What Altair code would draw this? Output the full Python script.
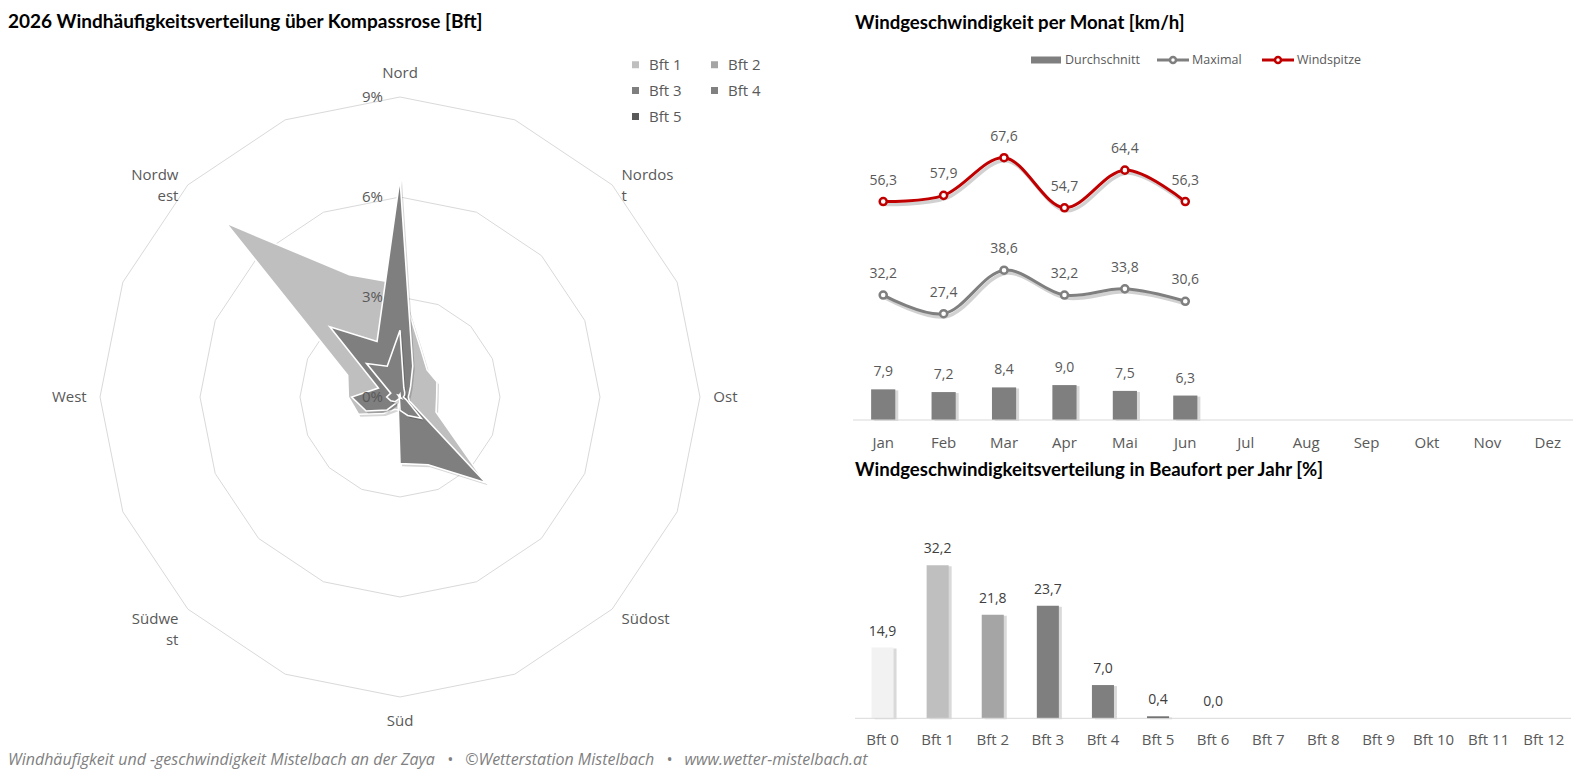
import altair as alt
import pandas as pd

# ---------------- data ----------------
directions = ["N", "NNO", "NO", "ONO", "O", "OSO", "SO", "SSO",
              "S", "SSW", "SW", "WSW", "W", "WNW", "NW", "NNW"]
direction_labels = ["Nord", "", "Nordost", "", "Ost", "", "Südost", "",
                    "Süd", "", "Südwest", "", "West", "", "Nordwest", ""]
series_names = ["Bft 1", "Bft 2", "Bft 3", "Bft 4", "Bft 5"]
bft1_share = [3.4, 1.6, 1.15, 1.2, 1.1, 1.17, 3.6, 1.5, 0.4, 0.4, 0.7, 1.35, 1.55, 1.7, 7.38, 3.97]
bft2_share = [5.0, 0.8, 0.35, 0.25, 0.2, 0.25, 3.0, 1.9, 1.7, 0.1, 0.45, 0.9, 1.2, 0.55, 2.6, 1.5]
bft3_share = [6.56, 1.0, 0.45, 0.3, 0.25, 0.3, 3.64, 2.2, 2.0, 0.15, 0.55, 1.1, 1.45, 0.7, 2.98, 1.8]
bft4_share = [2.0, 0.3, 0.2, 0.15, 0.1, 0.2, 0.9, 0.6, 0.4, 0.05, 0.2, 0.3, 0.4, 0.3, 1.42, 1.0]
bft5_share = [0.08, 0.02, 0.01, 0.0, 0.0, 0.01, 0.05, 0.03, 0.02, 0.0, 0.01, 0.02, 0.03, 0.02, 0.08, 0.05]
ring_levels = [3, 6, 9]
ring_label_levels = [0, 3, 6, 9]

months = ["Jan", "Feb", "Mar", "Apr", "Mai", "Jun", "Jul", "Aug", "Sep", "Okt", "Nov", "Dez"]
avg_kmh = [7.9, 7.2, 8.4, 9.0, 7.5, 6.3]
max_kmh = [32.2, 27.4, 38.6, 32.2, 33.8, 30.6]
gust_kmh = [56.3, 57.9, 67.6, 54.7, 64.4, 56.3]

beaufort_classes = ["Bft 0", "Bft 1", "Bft 2", "Bft 3", "Bft 4", "Bft 5", "Bft 6",
                    "Bft 7", "Bft 8", "Bft 9", "Bft 10", "Bft 11", "Bft 12"]
beaufort_share = [14.9, 32.2, 21.8, 23.7, 7.0, 0.4, 0.0]

title_left = "2026 Windhäufigkeitsverteilung über Kompassrose [Bft]"
title_month = "Windgeschwindigkeit per Monat [km/h]"
title_bft = "Windgeschwindigkeitsverteilung in Beaufort per Jahr [%]"
SEP = " \u2002•\u2002 "
footer = ("Windhäufigkeit und -geschwindigkeit Mistelbach an der Zaya" + SEP +
          "©Wetterstation Mistelbach" + SEP + "www.wetter-mistelbach.at")

# ---------------- styles ----------------
FONT = "Open Sans"
TFONT = "Lato"
GRAY_TXT = "#595959"
radar_colors = ["#BFBFBF", "#A5A5A5", "#7F7F7F", "#808080", "#595959"]
bft_colors = ["#F2F2F2", "#BFBFBF", "#A5A5A5", "#7F7F7F", "#7F7F7F", "#595959", "#DDEBF7",
              "#7F7F7F", "#7F7F7F", "#7F7F7F", "#7F7F7F", "#7F7F7F", "#7F7F7F"]

W, H = 1565, 762
CX, CY, PX_PER = 392, 389, 33.333
RX = alt.Scale(domain=[-10, 10], range=[CX - 10 * PX_PER, CX + 10 * PX_PER], nice=False, zero=False)
RY = alt.Scale(domain=[-10, 10], range=[CY + 10 * PX_PER, CY - 10 * PX_PER], nice=False, zero=False)

# ---------------- tables ----------------
all_series = [bft1_share, bft2_share, bft3_share, bft4_share, bft5_share]
radar_df = pd.DataFrame([
    {"series": s, "idx": i, "value": v}
    for s, vals in zip(series_names, all_series) for i, v in enumerate(vals)
])
ring_df = pd.DataFrame([{"ring": r, "idx": i} for r in ring_levels for i in range(len(directions))])
ring_lbl_df = pd.DataFrame({"ring": ring_label_levels,
                            "lbl": [f"{r}%" for r in ring_label_levels]})

wrap = {"Nordost": ["Nordos", "t"], "Südwest": ["Südwe", "st"], "Nordwest": ["Nordw", "est"]}
dir_df = pd.DataFrame([
    {"idx": i, "name": n, "txt": wrap.get(n, n)}
    for i, n in enumerate(direction_labels) if n
])

layers = []

# grid rings
layers.append(
    alt.Chart(ring_df).transform_calculate(
        px="datum.ring * sin(datum.idx * PI / 8)",
        py="datum.ring * cos(datum.idx * PI / 8)",
    ).mark_line(interpolate="linear-closed", stroke="#D9D9D9", strokeWidth=1).encode(
        x=alt.X("px:Q", scale=RX, axis=None),
        y=alt.Y("py:Q", scale=RY, axis=None),
        detail="ring:N",
        order="idx:Q",
    )
)

# radar polygons (each with a soft shadow)
for s, col in zip(series_names, radar_colors):
    base = alt.Chart(radar_df).transform_filter(alt.datum.series == s).transform_calculate(
        px="datum.value * sin(datum.idx * PI / 8)",
        py="datum.value * cos(datum.idx * PI / 8)",
    )
    enc = dict(
        x=alt.X("px:Q", scale=RX, axis=None),
        y=alt.Y("py:Q", scale=RY, axis=None),
        order="idx:Q",
    )
    layers.append(base.mark_line(interpolate="linear-closed", fill="#000000", fillOpacity=0.16,
                                 strokeOpacity=0, xOffset=2, yOffset=2.5).encode(**enc))
    layers.append(base.mark_line(interpolate="linear-closed", fill=col, fillOpacity=1,
                                 stroke="white", strokeWidth=1.6).encode(**enc))

# ring labels
layers.append(
    alt.Chart(ring_lbl_df).transform_calculate(zero="0").mark_text(
        align="right", baseline="middle", dx=-17, font=FONT, fontSize=15, color=GRAY_TXT
    ).encode(
        x=alt.X("zero:Q", scale=RX, axis=None),
        y=alt.Y("ring:Q", scale=RY, axis=None),
        text="lbl:N",
    )
)

# direction labels
for names, align, rad in [(["Nord", "Süd"], "center", 9.73),
                          (["Nordost", "Ost", "Südost"], "left", 9.4),
                          (["Nordwest", "West", "Südwest"], "right", 9.4)]:
    layers.append(
        alt.Chart(dir_df).transform_filter(
            alt.FieldOneOfPredicate(field="name", oneOf=names)
        ).transform_calculate(
            px=f"{rad} * sin(datum.idx * PI / 8)",
            py=f"{rad} * cos(datum.idx * PI / 8)",
        ).mark_text(align=align, baseline="middle", font=FONT, fontSize=15,
                    color=GRAY_TXT, lineHeight=21).encode(
            x=alt.X("px:Q", scale=RX, axis=None),
            y=alt.Y("py:Q", scale=RY, axis=None),
            text="txt",
        )
    )

# radar legend (Vega legend from a hidden layer)
layers.append(
    alt.Chart(pd.DataFrame({"series": series_names})).mark_square(opacity=0, size=49).encode(
        x=alt.value(CX), y=alt.value(CY),
        fill=alt.Fill("series:N", scale=alt.Scale(domain=series_names, range=radar_colors),
                      legend=alt.Legend(orient="none", legendX=620, legendY=49, columns=2,
                                        direction="horizontal", title=None,
                                        symbolType="square", symbolSize=49, symbolOpacity=1,
                                        symbolStrokeWidth=0, labelFont=FONT, labelFontSize=15,
                                        labelColor=GRAY_TXT, labelOffset=6, columnPadding=25,
                                        rowPadding=10, padding=0)),
    )
)

# ---------------- monthly chart ----------------
MX = alt.Scale(domain=months, range=[845, 1570], paddingInner=0.6, paddingOuter=0.3)
MY = alt.Scale(domain=[0, 80], range=[412, 101.6], nice=False, zero=True)

avg_df = pd.DataFrame({"month": months[:len(avg_kmh)], "v": avg_kmh})
max_df = pd.DataFrame({"month": months[:len(max_kmh)], "v": max_kmh})
gust_df = pd.DataFrame({"month": months[:len(gust_kmh)], "v": gust_kmh})
lbl_expr = "replace(format(datum.v, '.1f'), '.', ',')"

mx = alt.X("month:N", scale=MX, axis=None)
my = alt.Y("v:Q", scale=MY, axis=None)

layers.append(alt.Chart(avg_df).mark_bar(color="#000000", opacity=0.15, xOffset=3, yOffset=1)
              .encode(x=mx, y=my))
layers.append(alt.Chart(avg_df).mark_bar(color="#7F7F7F").encode(x=mx, y=my))
layers.append(alt.Chart(avg_df).transform_calculate(lbl=lbl_expr).mark_text(
    dy=-17, font=FONT, fontSize=14, color=GRAY_TXT, baseline="middle").encode(x=mx, y=my, text="lbl:N"))

for df, col in [(max_df, "#7F7F7F"), (gust_df, "#C00000")]:
    layers.append(alt.Chart(df).mark_line(interpolate="catmull-rom", color="#000000", opacity=0.18,
                                          strokeWidth=3.5, xOffset=2, yOffset=3).encode(x=mx, y=my))
    layers.append(alt.Chart(df).mark_line(interpolate="catmull-rom", color=col, strokeWidth=3)
                  .encode(x=mx, y=my))
    layers.append(alt.Chart(df).mark_point(filled=True, fill="white", stroke=col, strokeWidth=2.5,
                                           size=50, opacity=1).encode(x=mx, y=my))
    layers.append(alt.Chart(df).transform_calculate(lbl=lbl_expr).mark_text(
        dy=-21, font=FONT, fontSize=14, color=GRAY_TXT, baseline="middle").encode(x=mx, y=my, text="lbl:N"))

one = pd.DataFrame({"k": [0]})
# axis baseline + month labels
layers.append(alt.Chart(one).mark_rule(color="#D9D9D9", strokeWidth=1).encode(
    x=alt.value(845), x2=alt.value(1570), y=alt.value(412)))
layers.append(alt.Chart(pd.DataFrame({"month": months})).mark_text(
    font=FONT, fontSize=15, color=GRAY_TXT, baseline="middle").encode(
    x=mx, y=alt.value(435), text="month:N"))

# monthly legend
layers.append(alt.Chart(one).mark_rect(color="#7F7F7F").encode(
    x=alt.value(1023), x2=alt.value(1053), y=alt.value(48.5), y2=alt.value(55.5)))
for txt, x0, col in [("Durchschnitt", 1057, None), ("Maximal", 1184, "#7F7F7F"),
                     ("Windspitze", 1289, "#C00000")]:
    if col:
        layers.append(alt.Chart(one).mark_rule(color=col, strokeWidth=3).encode(
            x=alt.value(x0 - 35), x2=alt.value(x0 - 3), y=alt.value(52)))
        layers.append(alt.Chart(one).mark_point(filled=True, fill="white", stroke=col,
                                                strokeWidth=2.5, size=36, opacity=1).encode(
            x=alt.value(x0 - 19), y=alt.value(52)))
    layers.append(alt.Chart(pd.DataFrame({"t": [txt]})).mark_text(
        align="left", baseline="middle", font=FONT, fontSize=12.5, color=GRAY_TXT).encode(
        x=alt.value(x0), y=alt.value(52), text="t:N"))

# ---------------- beaufort chart ----------------
BX = alt.Scale(domain=beaufort_classes, range=[847, 1563.3], paddingInner=0.6, paddingOuter=0.3)
BY = alt.Scale(domain=[0, 35], range=[710.3, 544.05], nice=False, zero=True)
bft_df = pd.DataFrame({"cls": beaufort_classes[:len(beaufort_share)], "v": beaufort_share})
bx = alt.X("cls:N", scale=BX, axis=None)
by = alt.Y("v:Q", scale=BY, axis=None)

layers.append(alt.Chart(bft_df).mark_bar(color="#000000", opacity=0.15, xOffset=3, yOffset=1)
              .encode(x=bx, y=by))
layers.append(alt.Chart(bft_df).mark_bar().encode(
    x=bx, y=by,
    color=alt.Color("cls:N", scale=alt.Scale(domain=beaufort_classes, range=bft_colors), legend=None)))
layers.append(alt.Chart(bft_df).transform_calculate(lbl=lbl_expr).mark_text(
    dy=-16, font=FONT, fontSize=14, color="#404040", baseline="middle").encode(x=bx, y=by, text="lbl:N"))
layers.append(alt.Chart(one).mark_rule(color="#D9D9D9", strokeWidth=1).encode(
    x=alt.value(847), x2=alt.value(1563), y=alt.value(710.3)))
layers.append(alt.Chart(pd.DataFrame({"cls": beaufort_classes})).mark_text(
    font=FONT, fontSize=15, color=GRAY_TXT, baseline="middle").encode(
    x=bx, y=alt.value(732), text="cls:N"))

# ---------------- titles & footer ----------------
for txt, x0, y0, fs in [(title_left, 0, 14, 19), (title_month, 847, 15, 18.6),
                        (title_bft, 847, 462, 18.6)]:
    layers.append(alt.Chart(pd.DataFrame({"t": [txt]})).mark_text(
        align="left", baseline="middle", font=TFONT, fontSize=fs, fontWeight="bold",
        color="#000000").encode(x=alt.value(x0), y=alt.value(y0), text="t:N"))
layers.append(alt.Chart(pd.DataFrame({"t": [footer]})).mark_text(
    align="left", baseline="middle", font=FONT, fontSize=16, fontStyle="italic",
    color="#7F7F7F").encode(x=alt.value(0), y=alt.value(752), text="t:N"))

chart = alt.layer(*layers).resolve_scale(
    x="independent", y="independent"
).properties(
    width=W, height=H, padding=0, autosize=alt.AutoSizeParams(type="none")
).configure_view(stroke=None)

chart.save("out.html", embed_options={"renderer": "svg", "actions": False})
